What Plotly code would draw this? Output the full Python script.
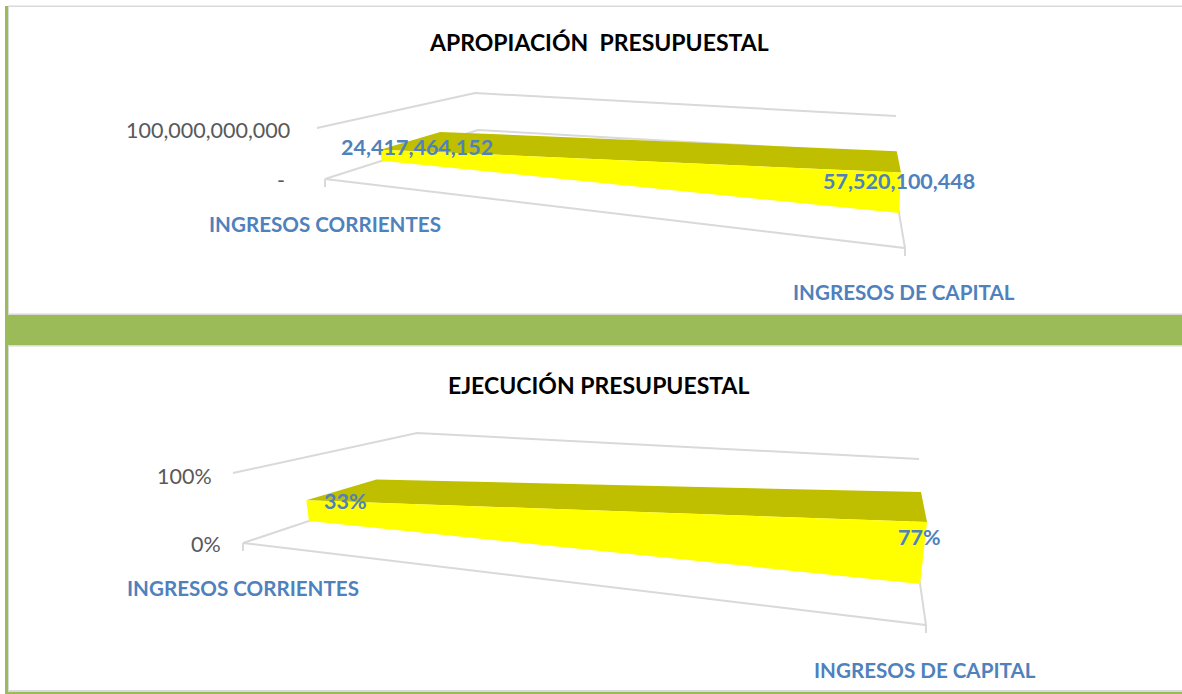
import plotly.graph_objects as go

# ---- data ----
CATEGORIES = ["INGRESOS CORRIENTES", "INGRESOS DE CAPITAL"]
APROPIACION_TITLE = "APROPIACIÓN\u00a0\u00a0PRESUPUESTAL"
EJECUCION_TITLE = "EJECUCIÓN PRESUPUESTAL"
APROPIACION_VALUES = [24417464152, 57520100448]
EJECUCION_VALUES = [0.33, 0.77]
APROPIACION_AXIS_MAX = 100000000000
EJECUCION_AXIS_MAX = 1.0
APROPIACION_TICKS = ["-", "100,000,000,000"]
EJECUCION_TICKS = ["0%", "100%"]

# ---- style ----
W, H = 1182, 694
FONT = "Lato"
YELLOW, OLIVE = "#FFFF00", "#BFBF00"
GRID = "#D9D9D9"
GREEN = "#9BBB59"
BLUE = "#4F81BD"
GREY = "#595959"

# 3D box of each chart as seen on the page: corners named
# (F)ront/(B)ack, (L)eft/(R)ight, 0 = floor, 1 = axis maximum
BOX_1 = dict(FL0=(325, 179), FR0=(905, 248), BL0=(478, 130), BR0=(888.8, 153.4),
             FL1=(317, 128), FR1=(906.3, 158.2), BL1=(475, 93), BR1=(896, 116))
BOX_2 = dict(FL0=(243, 543), FR0=(926, 625), BL0=(421, 483.5), BR0=(910, 514),
             FL1=(233, 473), FR1=(935, 529.6), BL1=(417, 433), BR1=(919, 459))


def project(box, x, d, z):
    """category position x, depth d, value fraction z -> page position."""
    out = []
    for i in (0, 1):
        f0 = box["FL0"][i] * (1 - x) + box["FR0"][i] * x
        b0 = box["BL0"][i] * (1 - x) + box["BR0"][i] * x
        f1 = box["FL1"][i] * (1 - x) + box["FR1"][i] * x
        b1 = box["BL1"][i] * (1 - x) + box["BR1"][i] * x
        low = f0 * (1 - d) + b0 * d
        high = f1 * (1 - d) + b1 * d
        out.append(low * (1 - z) + high * z)
    return out


fig = go.Figure()


def polyline(points, color=GRID, width=2, fill=None):
    xs = [p[0] for p in points]
    ys = [p[1] for p in points]
    if fill:
        fig.add_trace(go.Scatter(x=xs, y=ys, mode="lines", fill="toself", fillcolor=fill,
                                 line=dict(width=0, color=fill), hoverinfo="skip"))
    else:
        fig.add_trace(go.Scatter(x=xs, y=ys, mode="lines",
                                 line=dict(width=width, color=color), hoverinfo="skip"))


def draw_chart(box, values, axis_max, depth_front, depth_back, tick_len):
    # walls and floor
    polyline([project(box, 0, 0, 1), project(box, 0, 1, 1), project(box, 1, 1, 1)])
    polyline([project(box, 0, 0, 0), project(box, 1, 0, 0), project(box, 1, 1, 0),
              project(box, 0, 1, 0), project(box, 0, 0, 0)])
    for x in (0, 1):
        p = project(box, x, 0, 0)
        polyline([p, [p[0], p[1] + tick_len]])
    # area
    n = len(values) - 1
    xs = [i / n for i in range(n + 1)]
    zs = [v / axis_max for v in values]
    backs = [depth_back[0] * (1 - x) + depth_back[1] * x for x in xs]
    top_front = [project(box, x, depth_front, z) for x, z in zip(xs, zs)]
    top_back = [project(box, x, b, z) for x, z, b in zip(xs, zs, backs)]
    base_front = [project(box, x, depth_front, 0) for x in xs]
    polyline(top_front + top_back[::-1] + top_front[:1], fill=OLIVE)
    polyline(top_front + base_front[::-1] + top_front[:1], fill=YELLOW)


draw_chart(BOX_1, APROPIACION_VALUES, APROPIACION_AXIS_MAX, 0.37, (0.76, 0.70), 8)
draw_chart(BOX_2, EJECUCION_VALUES, EJECUCION_AXIS_MAX, 0.37, (0.76, 0.745), 8)


def label(x, y, text, size, color, bold=False, anchor="center"):
    fig.add_annotation(x=x, y=y, text=f"<b>{text}</b>" if bold else text, showarrow=False,
                       xanchor=anchor, yanchor="middle", xref="x", yref="y",
                       font=dict(family=FONT, size=size, color=color))


TITLE_SIZE = 23
CAT_SIZE = 20.6
TICK_SIZE = 21.5
DATA_SIZE = 21.5

label(598.5, 42, APROPIACION_TITLE, TITLE_SIZE, "#000000", bold=True)
label(598.5, 385, EJECUCION_TITLE, TITLE_SIZE, "#000000", bold=True)

label(292, 130, APROPIACION_TICKS[1], TICK_SIZE, GREY, anchor="right")
label(287, 180, APROPIACION_TICKS[0], TICK_SIZE, GREY, anchor="right")
label(214, 476, EJECUCION_TICKS[1], TICK_SIZE, GREY, anchor="right")
label(222.5, 544, EJECUCION_TICKS[0], TICK_SIZE, GREY, anchor="right")

label(325, 224, CATEGORIES[0], CAT_SIZE, BLUE, bold=True)
label(904, 292, CATEGORIES[1], CAT_SIZE, BLUE, bold=True)
label(243, 588, CATEGORIES[0], CAT_SIZE, BLUE, bold=True)
label(925, 670, CATEGORIES[1], CAT_SIZE, BLUE, bold=True)

label(416.5, 147, f"{APROPIACION_VALUES[0]:,}", DATA_SIZE, BLUE, bold=True)
label(899, 181, f"{APROPIACION_VALUES[1]:,}", DATA_SIZE, BLUE, bold=True)
label(345, 501, f"{EJECUCION_VALUES[0]:.0%}", DATA_SIZE, BLUE, bold=True)
label(919.5, 537, f"{EJECUCION_VALUES[1]:.0%}", DATA_SIZE, BLUE, bold=True)


def rect(x0, y0, x1, y1, color):
    return dict(type="rect", xref="x", yref="y", x0=x0, y0=y0, x1=x1, y1=y1,
                fillcolor=color, line=dict(width=0), layer="below")


shapes = [
    rect(8, 5.5, W, 7, GRID),           # top rule
    rect(5, 6, 8, 345, GREEN),          # left strip, upper panel
    rect(8, 6, 9, 314, GRID),
    rect(8, 313.5, W, 315, GRID),
    rect(5, 315, W, 345, GREEN),        # band between panels
    rect(8, 345, W, 346.5, GRID),
    rect(5, 345, 8, 694, GREEN),        # left strip, lower panel
    rect(8, 346, 9, 691, GRID),
    rect(8, 690, W, 692, GRID),
    rect(5, 692, W, 694, GREEN),        # bottom rule
]

axis = dict(visible=False, fixedrange=True)
fig.update_layout(
    width=W, height=H, margin=dict(l=0, r=0, t=0, b=0),
    paper_bgcolor="#FFFFFF", plot_bgcolor="#FFFFFF", showlegend=False,
    xaxis=dict(range=[0, W], **axis),
    yaxis=dict(range=[H, 0], **axis),
    shapes=shapes,
)
fig.write_html("out.html", config=dict(displayModeBar=False),
               post_script="document.body.style.margin='0';document.body.style.overflow='hidden';")
